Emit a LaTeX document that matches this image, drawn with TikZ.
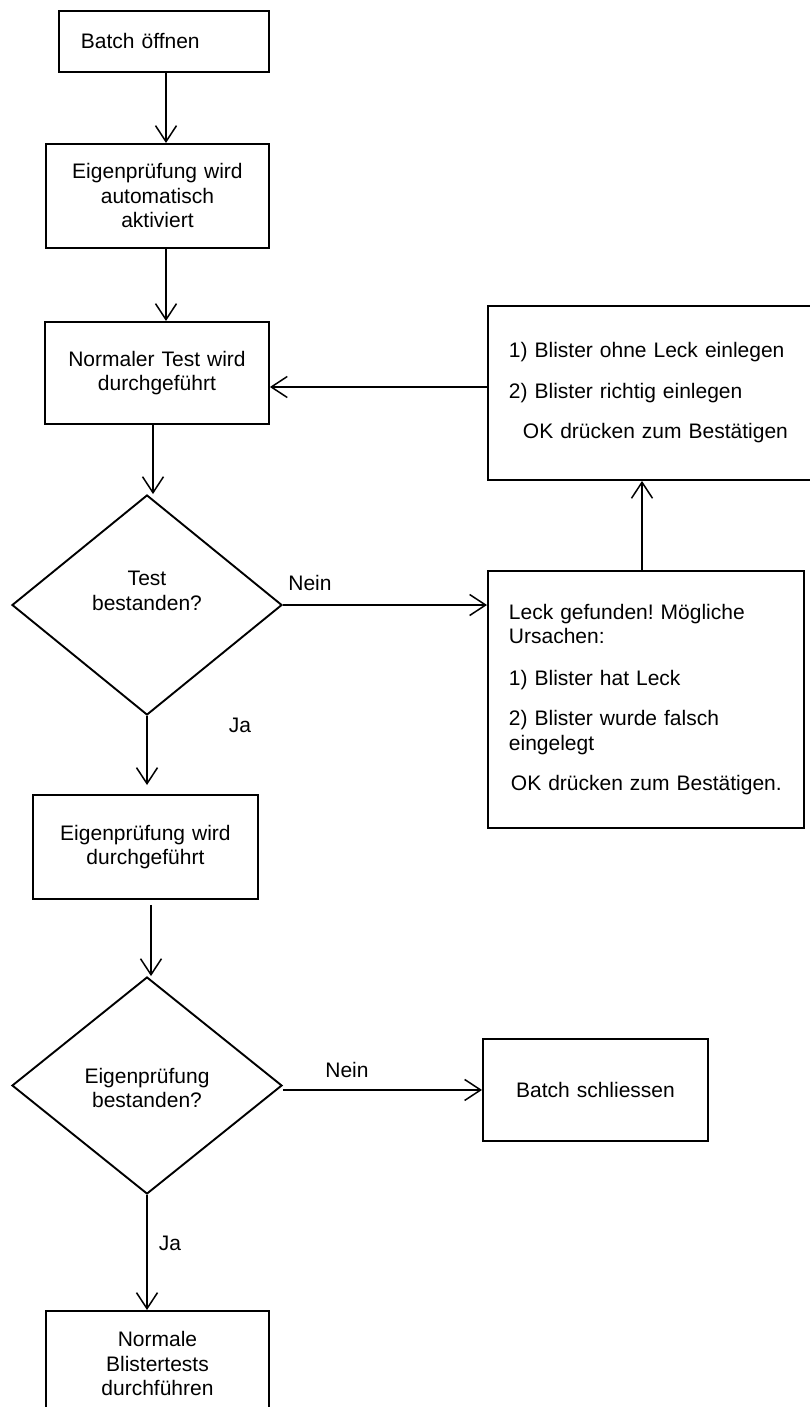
\documentclass[tikz,border=0pt]{standalone}
\usepackage{fontspec}
\setmainfont{Liberation Sans}
\usetikzlibrary{arrows.meta,shapes.geometric}
\frenchspacing
\begin{document}
\begin{tikzpicture}[x=1pt,y=-1pt,
  font=\fontsize{21}{24.5}\selectfont,
  box/.style={draw, line width=1.9pt, rectangle, inner sep=0pt, anchor=north west},
  dia/.style={draw, line width=1.9pt, diamond, inner sep=0pt, minimum width=270pt},
  arr/.style={line width=1.5pt, -{Straight Barb[length=16pt,width=21pt,line width=1.5pt]}},
  lbl/.style={inner sep=0pt}]
\useasboundingbox (0,0) rectangle (810,1407);

% boxes
\node[box, minimum width=210pt, minimum height=61pt, text width=166pt, align=left] (b1) at (58,10) {Batch öffnen};
\node[box, minimum width=223pt, minimum height=104pt, text width=200pt, align=center] (b2) at (45,143) {Eigenprüfung wird\\automatisch\\aktiviert};
\node[box, minimum width=224pt, minimum height=102pt, text width=200pt, align=center] (b3) at (44,321) {Normaler Test wird\\durchgeführt};
\node[dia, minimum height=220pt] (d1) at (147,605) {};
\node[lbl, align=center] (t1) at (147,591) {Test\\bestanden?};
\node[box, minimum width=325pt, minimum height=174pt, text width=283pt, align=left] (upper) at (487,305)
  {1) Blister ohne Leck einlegen\\[16pt]2) Blister richtig einlegen\\[16pt]\hspace*{14pt}OK drücken zum Bestätigen};
\node[box, minimum width=316pt, minimum height=257pt, text width=274pt, align=left] (leck) at (487,570)
  {Leck gefunden! Mögliche\\Ursachen:\\[17pt]1) Blister hat Leck\\[16pt]2) Blister wurde falsch\\eingelegt\\[16pt]\hspace*{2pt}OK drücken zum Bestätigen.};
\node[box, minimum width=225pt, minimum height=104pt, text width=200pt, align=center] (b4) at (32,794) {Eigenprüfung wird\\durchgeführt};
\node[dia, minimum height=217pt] (d2) at (147,1085.5) {};
\node[lbl, align=center] (t2) at (147,1088) {Eigenprüfung\\bestanden?};
\node[box, minimum width=225pt, minimum height=102pt, text width=200pt, align=center] (close) at (482,1038) {Batch schliessen};
\node[box, minimum width=223pt, minimum height=106pt, text width=200pt, align=center] (final) at (45,1310) {Normale\\Blistertests\\durchführen};

% labels
\node[lbl] (n1) at (310,583) {Nein};
\node[lbl] (j1) at (240,725) {Ja};
\node[lbl] (n2) at (347,1070) {Nein};
\node[lbl] (j2) at (170,1243) {Ja};

% helper coordinates
\coordinate (xa) at (166,0);
\coordinate (xb) at (153,0);
\coordinate (xc) at (642,0);
\coordinate (yd) at (0,387);
\coordinate (xe) at (151,0);

% connectors
\draw[arr] (b1.south -| xa) -- (b2.north -| xa);
\draw[arr] (b2.south -| xa) -- (b3.north -| xa);
\draw[arr] (b3.south -| xb) -- (d1.north -| xb);
\draw[arr] (d1.east) -- (leck.west |- d1.east);
\draw[arr] (leck.north -| xc) -- (upper.south -| xc);
\draw[arr] (upper.west |- yd) -- (b3.east |- yd);
\draw[arr, shorten >=9pt] (d1.south) -- (d1.south |- b4.north);
\draw[arr, shorten <=5pt] (b4.south -| xe) -- (d2.north -| xe);
\draw[arr] (d2.east |- close.west) -- (close.west);
\draw[arr] (d2.south) -- (d2.south |- final.north);
\end{tikzpicture}
\end{document}
